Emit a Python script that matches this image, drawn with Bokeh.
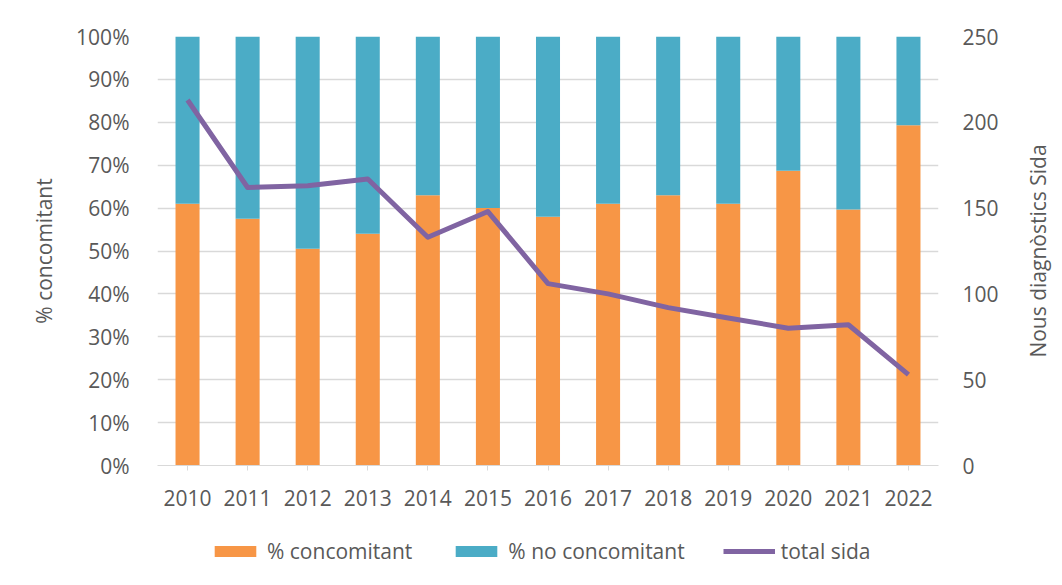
from bokeh.plotting import figure
from bokeh.models import (Range1d, LinearAxis, FixedTicker, PrintfTickFormatter,
                          Legend, LegendItem, ColumnDataSource)
from bokeh.layouts import column, row
from bokeh.embed import file_html
from bokeh.resources import INLINE

years = ["2010", "2011", "2012", "2013", "2014", "2015", "2016",
         "2017", "2018", "2019", "2020", "2021", "2022"]
pct_concomitant = [61, 57.5, 50.5, 54, 63, 60, 58, 61, 63, 61, 68.7, 59.7, 79.3]
pct_no_concomitant = [100 - v for v in pct_concomitant]
total_sida = [213, 162, 163, 167, 133, 148, 106, 100, 92, 86, 80, 82, 53]

left_ticks = list(range(0, 101, 10))
right_ticks = list(range(0, 251, 50))

FONT = "Open Sans"
TXT = "#595959"
GRID = "#d9d9d9"
ORANGE = "#F79646"
BLUE = "#4BACC6"
PURPLE = "#8064A2"
FS = "21px"

idx = list(range(len(years)))
src = ColumnDataSource(dict(x=idx, conc=pct_concomitant,
                            noconc=pct_no_concomitant,
                            top_all=[c + n for c, n in zip(pct_concomitant, pct_no_concomitant)],
                            total=total_sida))

p = figure(width=1020, height=520, output_backend="svg", toolbar_location=None,
           x_range=Range1d(-0.5, len(years) - 0.5), y_range=Range1d(0, 100),
           min_border_left=157, min_border_right=82, min_border_top=36,
           min_border_bottom=55)
p.outline_line_color = None
p.extra_y_ranges = {"right": Range1d(0, 250)}

r1 = p.vbar(x="x", bottom=0, top="conc", width=0.4, source=src,
            fill_color=ORANGE, line_color=None)
r2 = p.vbar(x="x", bottom="conc", top="top_all", width=0.4, source=src,
            fill_color=BLUE, line_color=None)
r3 = p.line(x="x", y="total", source=src, y_range_name="right",
            line_color=PURPLE, line_width=5, line_join="round")

# x axis
xa = p.xaxis[0]
xa.ticker = FixedTicker(ticks=idx)
xa.major_label_overrides = {i: y for i, y in zip(idx, years)}
xa.minor_tick_line_color = None
xa.major_tick_in = 0
xa.major_tick_out = 5
xa.major_tick_line_color = GRID
xa.axis_line_color = GRID
xa.major_label_standoff = 19
p.xgrid.visible = False

# left y axis
ya = p.yaxis[0]
ya.ticker = FixedTicker(ticks=left_ticks)
ya.formatter = PrintfTickFormatter(format="%d%%")
ya.axis_label = "% concomitant"
ya.axis_line_color = None
ya.major_tick_line_color = None
ya.minor_tick_line_color = None
ya.major_label_standoff = 22
ya.axis_label_standoff = 15
p.ygrid.ticker = FixedTicker(ticks=left_ticks)
p.ygrid.grid_line_color = GRID
p.ygrid.grid_line_width = 1.5

# right y axis (numbers only; its title is set on the narrow strip beside)
ra = LinearAxis(y_range_name="right", ticker=FixedTicker(ticks=right_ticks))
ra.axis_line_color = None
ra.major_tick_line_color = None
ra.minor_tick_line_color = None
ra.major_label_standoff = 18
p.add_layout(ra, "right")

# narrow strip carrying the right-hand title, read bottom to top
t3 = figure(width=34, height=520, output_backend="svg", toolbar_location=None,
            x_range=Range1d(0, 1), y_range=Range1d(0, 250),
            min_border_left=30, min_border_right=0, min_border_top=36,
            min_border_bottom=55)
t3.xaxis.visible = False
t3.grid.visible = False
t3.outline_line_color = None
ta = t3.yaxis[0]
ta.ticker = FixedTicker(ticks=[])
ta.axis_label = "Nous diagnòstics Sida"
ta.axis_label_standoff = 0
ta.axis_line_color = None
ta.major_tick_line_color = None
ta.minor_tick_line_color = None
ta.major_tick_out = 0
ta.major_label_standoff = 0

for ax in [xa, ya, ra, ta]:
    ax.major_label_text_font = FONT
    ax.major_label_text_font_size = FS
    ax.major_label_text_color = TXT
    ax.axis_label_text_font = FONT
    ax.axis_label_text_font_size = FS
    ax.axis_label_text_color = TXT
    ax.axis_label_text_font_style = "normal"

# legend strip below the chart
lg = figure(width=1054, height=57, output_backend="svg", toolbar_location=None,
            x_range=Range1d(0, 1), y_range=Range1d(0, 1),
            min_border_left=0, min_border_right=0, min_border_top=0,
            min_border_bottom=0)
lg.axis.visible = False
lg.grid.visible = False
lg.outline_line_color = None
l1 = lg.vbar(x="x", bottom=0, top="conc", width=0.4, source=src,
             fill_color=ORANGE, line_color=None, visible=False)
l2 = lg.vbar(x="x", bottom="conc", top="top_all", width=0.4, source=src,
             fill_color=BLUE, line_color=None, visible=False)
l3 = lg.line(x="x", y="total", source=src,
             line_color=PURPLE, line_width=5, visible=False)

legend = Legend(items=[LegendItem(label="% concomitant", renderers=[l1]),
                       LegendItem(label="% no concomitant", renderers=[l2]),
                       LegendItem(label="total sida", renderers=[l3])],
                orientation="horizontal", location=(209, 12))
legend.padding = 0
legend.margin = 0
legend.spacing = 38
legend.glyph_width = 52
legend.glyph_height = 14
legend.label_standoff = 6
legend.label_text_font = FONT
legend.label_text_font_size = FS
legend.label_text_color = TXT
legend.border_line_color = None
legend.background_fill_alpha = 0
legend.inactive_fill_alpha = 0
lg.add_layout(legend, "center")

layout = column(row(p, t3, spacing=0), lg, spacing=0)

open("out.html", "w").write(file_html(layout, INLINE))
